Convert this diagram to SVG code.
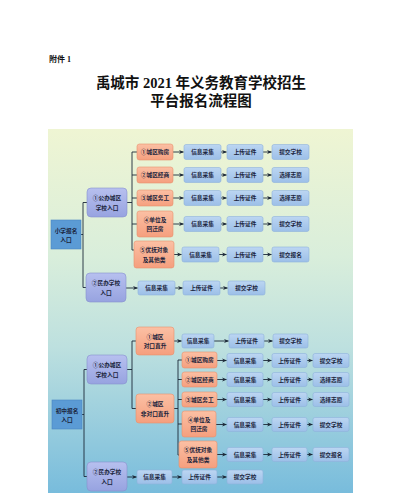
<svg xmlns="http://www.w3.org/2000/svg" width="400" height="504" viewBox="0 0 400 504">
<defs>
<linearGradient id="bg" x1="0" y1="0" x2="0" y2="1">
<stop offset="0" stop-color="#eff5d3"/>
<stop offset="0.35" stop-color="#d9eedb"/>
<stop offset="0.6" stop-color="#bde0df"/>
<stop offset="1" stop-color="#78bcdc"/>
</linearGradient>
<linearGradient id="gOr" x1="0" y1="0" x2="0" y2="1">
<stop offset="0" stop-color="#fbc0a4"/>
<stop offset="1" stop-color="#f59f7e"/>
</linearGradient>
<linearGradient id="gBl" x1="0" y1="0" x2="0" y2="1">
<stop offset="0" stop-color="#bcd6f2"/>
<stop offset="1" stop-color="#9cbfe8"/>
</linearGradient>
<linearGradient id="gPu" x1="0" y1="0" x2="0" y2="1">
<stop offset="0" stop-color="#b7c0ef"/>
<stop offset="1" stop-color="#97a3e0"/>
</linearGradient>
<marker id="ar" viewBox="0 0 10 10" refX="9" refY="5" markerWidth="5" markerHeight="5" orient="auto" markerUnits="userSpaceOnUse">
<path d="M0,1 L10,5 L0,9 L3,5 Z" fill="#1c2838"/>
</marker>
<style>
.t{font-family:"Noto Sans CJK SC","Noto Sans",sans-serif;font-size:5.7px;font-weight:bold;fill:#1a243c;text-anchor:middle}
.ent{fill:#5b9bd5;stroke:#4a86c2;stroke-width:0.6}
.pu{fill:url(#gPu);stroke:#8790cc;stroke-width:0.6}
.or{fill:url(#gOr);stroke:#e8906c;stroke-width:0.6}
.bl{fill:url(#gBl);stroke:#8fb2dc;stroke-width:0.6}
.ln{stroke:#1c2838;stroke-width:0.9;fill:none}
.arw{stroke:#1c2838;stroke-width:0.9;fill:none;marker-end:url(#ar)}
</style>
</defs>
<rect x="0" y="0" width="400" height="504" fill="#ffffff"/>
<text x="49" y="62" font-family="Liberation Serif,'Noto Sans CJK SC',serif" font-size="8" font-weight="bold" fill="#111">附件 1</text>
<text x="201" y="88" font-family="Liberation Serif,'Noto Sans CJK SC',serif" font-size="14.5" font-weight="bold" fill="#111" text-anchor="middle">禹城市 2021 年义务教育学校招生</text>
<text x="201" y="106" font-family="Liberation Serif,'Noto Sans CJK SC',serif" font-size="14.5" font-weight="bold" fill="#111" text-anchor="middle">平台报名流程图</text>
<rect x="48" y="129" width="305" height="364" fill="url(#bg)"/>

<g id="connectors">
<path class="ln" d="M81,234.5 H83 M83,202.5 V287.5 M83,202.5 H87 M83,287.5 H86"/>
<path class="ln" d="M127,202.5 H132 M132,152 V250 M132,152 H137 M132,175 H137 M132,198 H137 M132,224 H137 M132,250 H134"/>
<path class="arw" d="M173,152 H183.5"/>
<path class="arw" d="M221,152 H226.5"/>
<path class="arw" d="M263,152 H271.5"/>
<path class="arw" d="M173,175 H183.5"/>
<path class="arw" d="M221,175 H226.5"/>
<path class="arw" d="M263,175 H271.5"/>
<path class="arw" d="M173,198 H183.5"/>
<path class="arw" d="M221,198 H226.5"/>
<path class="arw" d="M263,198 H271.5"/>
<path class="arw" d="M173,224 H183.5"/>
<path class="arw" d="M221,224 H226.5"/>
<path class="arw" d="M263,224 H271.5"/>
<path class="arw" d="M174,254.5 H181.5"/>
<path class="arw" d="M219,254.5 H226.5"/>
<path class="arw" d="M263,254.5 H271.5"/>
<path class="arw" d="M126,288 H137.5"/>
<path class="arw" d="M175,288 H182.5"/>
<path class="arw" d="M220,288 H227.5"/>
<path class="ln" d="M82,414.5 H84 M84,369.5 V476.5 M84,369.5 H87 M84,476.5 H87"/>
<path class="ln" d="M127,369.5 H132 M132,341 V408.5 M132,341 H136 M132,408.5 H136"/>
<path class="ln" d="M174,408.5 H178 M178,360 V455 M178,360 H182 M178,379.5 H182 M178,399.5 H182 M178,424 H182 M178,455 H179"/>
<path class="arw" d="M174,341 H181.5"/>
<path class="arw" d="M214,341 H228.5"/>
<path class="arw" d="M264,341 H272.5"/>
<path class="arw" d="M217,360.5 H226.5"/>
<path class="arw" d="M263,360.5 H271.5"/>
<path class="arw" d="M307,360.5 H312.5"/>
<path class="arw" d="M217,379.5 H226.5"/>
<path class="arw" d="M263,379.5 H271.5"/>
<path class="arw" d="M307,379.5 H312.5"/>
<path class="arw" d="M217,399.5 H226.5"/>
<path class="arw" d="M263,399.5 H271.5"/>
<path class="arw" d="M307,399.5 H312.5"/>
<path class="arw" d="M216,424.5 H226.5"/>
<path class="arw" d="M263,424.5 H271.5"/>
<path class="arw" d="M307,424.5 H312.5"/>
<path class="arw" d="M217,454.5 H226.5"/>
<path class="arw" d="M263,454.5 H271.5"/>
<path class="arw" d="M307,454.5 H312.5"/>
<path class="arw" d="M127,477 H136.5"/>
<path class="arw" d="M172,477 H181.5"/>
<path class="arw" d="M217,477 H226.5"/>
</g>

<g id="xx-entry"><rect class="ent" x="51" y="220" width="30" height="29"/><text class="t" x="66" y="232.5">小学报名</text><text class="t" x="66" y="242">入口</text></g>
<g id="xx-gb"><rect class="pu" x="87" y="188" width="40" height="29" rx="4"/><text class="t" x="107" y="200">①公办城区</text><text class="t" x="107" y="209.5">学校入口</text></g>
<g id="xx-mb"><rect class="pu" x="86" y="273" width="40" height="29" rx="4"/><text class="t" x="106" y="285">②民办学校</text><text class="t" x="106" y="294.5">入口</text></g>

<g id="xx-o1"><rect class="or" x="137" y="144" width="36" height="16" rx="2.5"/><text class="t" x="155" y="154">①城区购房</text></g>
<g id="xx-o2"><rect class="or" x="137" y="167" width="36" height="16" rx="2.5"/><text class="t" x="155" y="177">②城区经商</text></g>
<g id="xx-o3"><rect class="or" x="137" y="190" width="36" height="16" rx="2.5"/><text class="t" x="155" y="200">③城区务工</text></g>
<g id="xx-o4"><rect class="or" x="137" y="211" width="36" height="26" rx="2.5"/><text class="t" x="155" y="221.5">④单位及</text><text class="t" x="155" y="231">回迁房</text></g>
<g id="xx-o5"><rect class="or" x="134" y="241" width="40" height="27" rx="2.5"/><text class="t" x="154" y="252">⑤优抚对象</text><text class="t" x="154" y="261.5">及其他类</text></g>

<g id="xx-r1-info"><rect class="bl" x="184" y="144.5" width="37" height="15" rx="2"/><text class="t" x="202.5" y="154">信息采集</text></g>
<g id="xx-r1-up"><rect class="bl" x="227" y="144.5" width="36" height="15" rx="2"/><text class="t" x="245" y="154">上传证件</text></g>
<g id="xx-r1-sub"><rect class="bl" x="272" y="144.5" width="37" height="15" rx="2"/><text class="t" x="290.5" y="154">提交学校</text></g>
<g id="xx-r2-info"><rect class="bl" x="184" y="167.5" width="37" height="15" rx="2"/><text class="t" x="202.5" y="177">信息采集</text></g>
<g id="xx-r2-up"><rect class="bl" x="227" y="167.5" width="36" height="15" rx="2"/><text class="t" x="245" y="177">上传证件</text></g>
<g id="xx-r2-sub"><rect class="bl" x="272" y="167.5" width="37" height="15" rx="2"/><text class="t" x="290.5" y="177">选择志愿</text></g>
<g id="xx-r3-info"><rect class="bl" x="184" y="190.5" width="37" height="15" rx="2"/><text class="t" x="202.5" y="200">信息采集</text></g>
<g id="xx-r3-up"><rect class="bl" x="227" y="190.5" width="36" height="15" rx="2"/><text class="t" x="245" y="200">上传证件</text></g>
<g id="xx-r3-sub"><rect class="bl" x="272" y="190.5" width="37" height="15" rx="2"/><text class="t" x="290.5" y="200">选择志愿</text></g>
<g id="xx-r4-info"><rect class="bl" x="184" y="216.5" width="37" height="15" rx="2"/><text class="t" x="202.5" y="226">信息采集</text></g>
<g id="xx-r4-up"><rect class="bl" x="227" y="216.5" width="36" height="15" rx="2"/><text class="t" x="245" y="226">上传证件</text></g>
<g id="xx-r4-sub"><rect class="bl" x="272" y="216.5" width="37" height="15" rx="2"/><text class="t" x="290.5" y="226">提交学校</text></g>
<g id="xx-r5-info"><rect class="bl" x="182" y="247" width="37" height="15" rx="2"/><text class="t" x="200.5" y="256.5">信息采集</text></g>
<g id="xx-r5-up"><rect class="bl" x="227" y="247" width="36" height="15" rx="2"/><text class="t" x="245" y="256.5">上传证件</text></g>
<g id="xx-r5-sub"><rect class="bl" x="272" y="247" width="37" height="15" rx="2"/><text class="t" x="290.5" y="256.5">提交报名</text></g>
<g id="xx-m-info"><rect class="bl" x="138" y="281" width="37" height="14" rx="2"/><text class="t" x="156.5" y="290">信息采集</text></g>
<g id="xx-m-up"><rect class="bl" x="183" y="281" width="37" height="14" rx="2"/><text class="t" x="201.5" y="290">上传证件</text></g>
<g id="xx-m-sub"><rect class="bl" x="228" y="281" width="37" height="14" rx="2"/><text class="t" x="246.5" y="290">提交学校</text></g>

<g id="cz-entry"><rect class="ent" x="52" y="400" width="30" height="29"/><text class="t" x="67" y="412.5">初中报名</text><text class="t" x="67" y="422">入口</text></g>
<g id="cz-gb"><rect class="pu" x="87" y="355" width="40" height="29" rx="4"/><text class="t" x="107" y="367">①公办城区</text><text class="t" x="107" y="376.5">学校入口</text></g>
<g id="cz-mb"><rect class="pu" x="87" y="462" width="40" height="29" rx="4"/><text class="t" x="107" y="474">②民办学校</text><text class="t" x="107" y="483.5">入口</text></g>
<g id="cz-dk"><rect class="or" x="136" y="327" width="38" height="28" rx="3"/><text class="t" x="155" y="338.5">①城区</text><text class="t" x="155" y="348">对口直升</text></g>
<g id="cz-fdk"><rect class="or" x="136" y="394" width="38" height="29" rx="3"/><text class="t" x="155" y="406">②城区</text><text class="t" x="155" y="415.5">非对口直升</text></g>

<g id="cz-dk-info"><rect class="bl" x="182" y="334" width="32" height="14" rx="2"/><text class="t" x="198" y="343">信息采集</text></g>
<g id="cz-dk-up"><rect class="bl" x="229" y="334" width="35" height="14" rx="2"/><text class="t" x="246.5" y="343">上传证件</text></g>
<g id="cz-dk-sub"><rect class="bl" x="273" y="334" width="35" height="14" rx="2"/><text class="t" x="290.5" y="343">提交学校</text></g>

<g id="cz-s1"><rect class="or" x="182" y="352" width="35" height="16" rx="2.5"/><text class="t" x="199.5" y="362">①城区购房</text></g>
<g id="cz-s2"><rect class="or" x="182" y="372" width="35" height="15" rx="2.5"/><text class="t" x="199.5" y="381.5">②城区经商</text></g>
<g id="cz-s3"><rect class="or" x="182" y="392" width="35" height="15" rx="2.5"/><text class="t" x="199.5" y="401.5">③城区务工</text></g>
<g id="cz-s4"><rect class="or" x="182" y="411" width="34" height="26" rx="2.5"/><text class="t" x="199" y="421.5">④单位及</text><text class="t" x="199" y="431">回迁房</text></g>
<g id="cz-s5"><rect class="or" x="179" y="441" width="38" height="27" rx="2.5"/><text class="t" x="198" y="452">⑤优抚对象</text><text class="t" x="198" y="461.5">及其他类</text></g>

<g id="cz-s1-info"><rect class="bl" x="227" y="353.5" width="36" height="14" rx="2"/><text class="t" x="245" y="362.5">信息采集</text></g>
<g id="cz-s1-up"><rect class="bl" x="272" y="353.5" width="35" height="14" rx="2"/><text class="t" x="289.5" y="362.5">上传证件</text></g>
<g id="cz-s1-sub"><rect class="bl" x="313" y="353.5" width="36" height="14" rx="2"/><text class="t" x="331" y="362.5">提交学校</text></g>
<g id="cz-s2-info"><rect class="bl" x="227" y="372.5" width="36" height="14" rx="2"/><text class="t" x="245" y="381.5">信息采集</text></g>
<g id="cz-s2-up"><rect class="bl" x="272" y="372.5" width="35" height="14" rx="2"/><text class="t" x="289.5" y="381.5">上传证件</text></g>
<g id="cz-s2-sub"><rect class="bl" x="313" y="372.5" width="36" height="14" rx="2"/><text class="t" x="331" y="381.5">选择志愿</text></g>
<g id="cz-s3-info"><rect class="bl" x="227" y="392.5" width="36" height="14" rx="2"/><text class="t" x="245" y="401.5">信息采集</text></g>
<g id="cz-s3-up"><rect class="bl" x="272" y="392.5" width="35" height="14" rx="2"/><text class="t" x="289.5" y="401.5">上传证件</text></g>
<g id="cz-s3-sub"><rect class="bl" x="313" y="392.5" width="36" height="14" rx="2"/><text class="t" x="331" y="401.5">选择志愿</text></g>
<g id="cz-s4-info"><rect class="bl" x="227" y="417.5" width="36" height="14" rx="2"/><text class="t" x="245" y="426.5">信息采集</text></g>
<g id="cz-s4-up"><rect class="bl" x="272" y="417.5" width="35" height="14" rx="2"/><text class="t" x="289.5" y="426.5">上传证件</text></g>
<g id="cz-s4-sub"><rect class="bl" x="313" y="417.5" width="36" height="14" rx="2"/><text class="t" x="331" y="426.5">提交学校</text></g>
<g id="cz-s5-info"><rect class="bl" x="227" y="447.5" width="36" height="14" rx="2"/><text class="t" x="245" y="456.5">信息采集</text></g>
<g id="cz-s5-up"><rect class="bl" x="272" y="447.5" width="35" height="14" rx="2"/><text class="t" x="289.5" y="456.5">上传证件</text></g>
<g id="cz-s5-sub"><rect class="bl" x="313" y="447.5" width="36" height="14" rx="2"/><text class="t" x="331" y="456.5">提交报名</text></g>

<g id="cz-m-info"><rect class="bl" x="137" y="470" width="35" height="14" rx="2"/><text class="t" x="154.5" y="479">信息采集</text></g>
<g id="cz-m-up"><rect class="bl" x="182" y="470" width="35" height="14" rx="2"/><text class="t" x="199.5" y="479">上传证件</text></g>
<g id="cz-m-sub"><rect class="bl" x="227" y="470" width="36" height="14" rx="2"/><text class="t" x="245" y="479">提交学校</text></g>
</svg>
